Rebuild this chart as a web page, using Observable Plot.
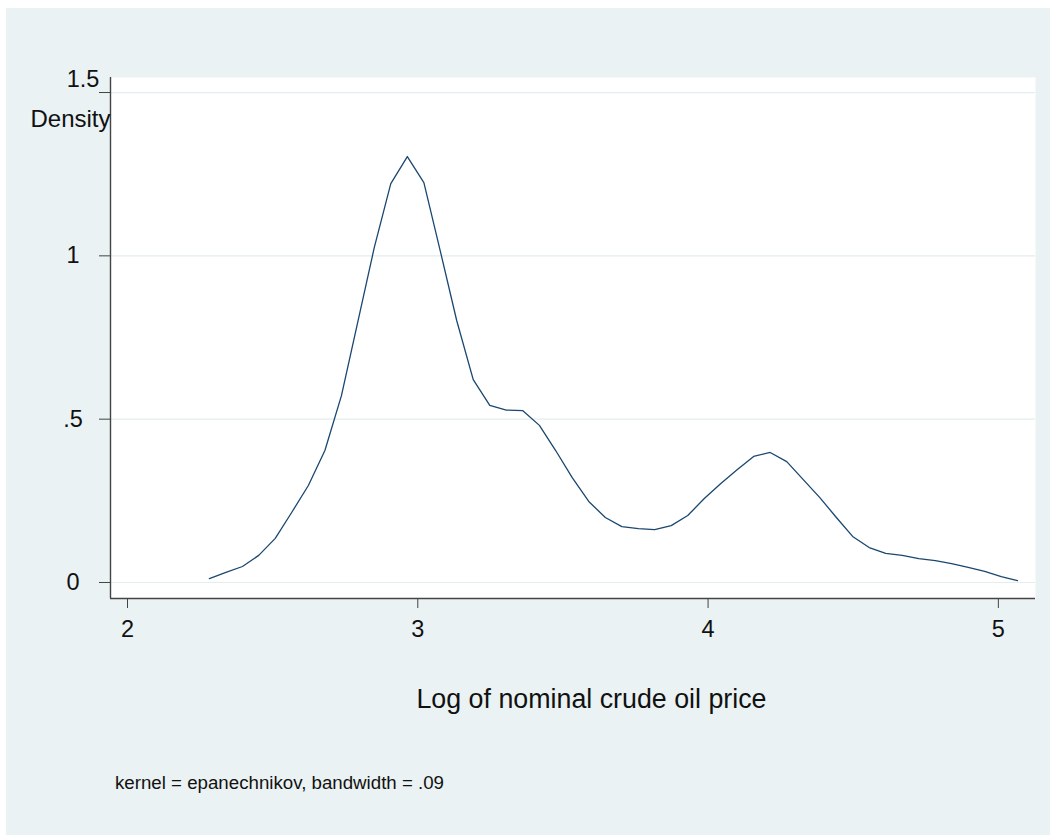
<!DOCTYPE html>
<html>
<head>
<meta charset="utf-8">
<script src="https://cdn.jsdelivr.net/npm/d3@7"></script>
<script src="https://cdn.jsdelivr.net/npm/@observablehq/plot@0.6"></script>
<style>
  html, body { margin: 0; padding: 0; background: #ffffff; }
  #graph { position: absolute; left: 6px; top: 8px; width: 1044px; height: 827px; background: #EAF2F3; font-family: "Liberation Sans", Arial, sans-serif; }
  #graph svg { position: absolute; left: 0; top: 0; }
  #caption { position: absolute; left: 109px; top: 766px; font-size: 18.7px; line-height: 18.7px; color: #111; white-space: nowrap; }
</style>
</head>
<body>
<div id="graph"><div id="caption"></div></div>
<script>
// Evaluation points (log of nominal crude oil price)
const logPrice = [2.282, 2.339, 2.396, 2.452, 2.509, 2.566, 2.623, 2.680, 2.737, 2.793,
  2.850, 2.907, 2.964, 3.021, 3.078, 3.134, 3.191, 3.248, 3.305, 3.362,
  3.419, 3.475, 3.532, 3.589, 3.646, 3.703, 3.760, 3.816, 3.873, 3.930,
  3.987, 4.044, 4.101, 4.157, 4.214, 4.271, 4.328, 4.385, 4.442, 4.498,
  4.555, 4.612, 4.669, 4.726, 4.783, 4.839, 4.896, 4.953, 5.010, 5.066];
// Kernel density estimates
const density = [0.012, 0.031, 0.049, 0.083, 0.135, 0.215, 0.297, 0.404, 0.572, 0.796,
  1.025, 1.221, 1.304, 1.224, 1.013, 0.802, 0.621, 0.542, 0.528, 0.526,
  0.481, 0.404, 0.321, 0.248, 0.199, 0.171, 0.165, 0.162, 0.174, 0.205,
  0.257, 0.303, 0.346, 0.386, 0.398, 0.370, 0.315, 0.260, 0.199, 0.141,
  0.107, 0.089, 0.083, 0.073, 0.067, 0.058, 0.046, 0.034, 0.018, 0.006];

const xTicks = [2, 3, 4, 5];
const xTickLabels = ["2", "3", "4", "5"];
const yTicks = [0, 0.5, 1, 1.5];
const yTickLabels = ["0", ".5", "1", "1.5"];
const xTitle = "Log of nominal crude oil price";
const yTitle = "Density";
const note = "kernel = epanechnikov, bandwidth = .09";

const data = logPrice.map((x, i) => ({x, y: density[i]}));
const xDomain = [1.9414, 5.128];
const yDomain = [-0.049, 1.546];
const fmtX = d => xTickLabels[xTicks.indexOf(d)];
const fmtY = d => yTickLabels[yTicks.indexOf(d)];
const axisColor = "#444";
const tickFont = 23.5;

const chart = Plot.plot({
  width: 1044,
  height: 740,
  marginLeft: 104,
  marginRight: 15,
  marginTop: 69,
  marginBottom: 150,
  style: {background: "transparent", fontFamily: "'Liberation Sans', Arial, sans-serif", color: "#111", overflow: "visible"},
  x: {domain: xDomain},
  y: {domain: yDomain},
  marks: [
    Plot.frame({fill: "white", stroke: null}),
    Plot.gridY(yTicks, {stroke: "#E3ECEE", strokeOpacity: 1, strokeWidth: 1.2}),
    Plot.line(data, {x: "x", y: "y", stroke: "#1A476F", strokeWidth: 1.3}),
    Plot.ruleX([xDomain[0]], {stroke: axisColor, strokeWidth: 1.4}),
    Plot.ruleY([yDomain[0]], {stroke: axisColor, strokeWidth: 1.4}),
    // tick marks for every y tick, labels for 0, .5, 1
    Plot.axisY(yTicks, {tickSize: 11, tickPadding: 26.5, textAnchor: "middle", tickFormat: d => d === 1.5 ? "" : fmtY(d), fontSize: tickFont, stroke: axisColor, fill: "#111", label: null}),
    // the top label sits above its tick, as in Stata
    Plot.axisY([1.5], {tickSize: 0, tickPadding: 27.5, textAnchor: "middle", dy: -13, tickFormat: fmtY, fontSize: tickFont, fill: "#111", label: null}),
    Plot.axisX(xTicks, {tickSize: 10, tickPadding: 12, tickFormat: fmtX, fontSize: tickFont, stroke: axisColor, fill: "#111", label: null}),
    Plot.text([yTitle], {frameAnchor: "top-left", textAnchor: "end", lineAnchor: "middle", dy: 42, fontSize: 24, fill: "#111", text: d => d}),
    Plot.text([xTitle], {frameAnchor: "bottom", textAnchor: "middle", lineAnchor: "middle", dx: 18.5, dy: 100.7, fontSize: 26.8, fill: "#111", text: d => d})
  ]
});
const graph = document.getElementById("graph");
graph.insertBefore(chart, graph.firstChild);
document.getElementById("caption").textContent = note;
</script>
</body>
</html>
